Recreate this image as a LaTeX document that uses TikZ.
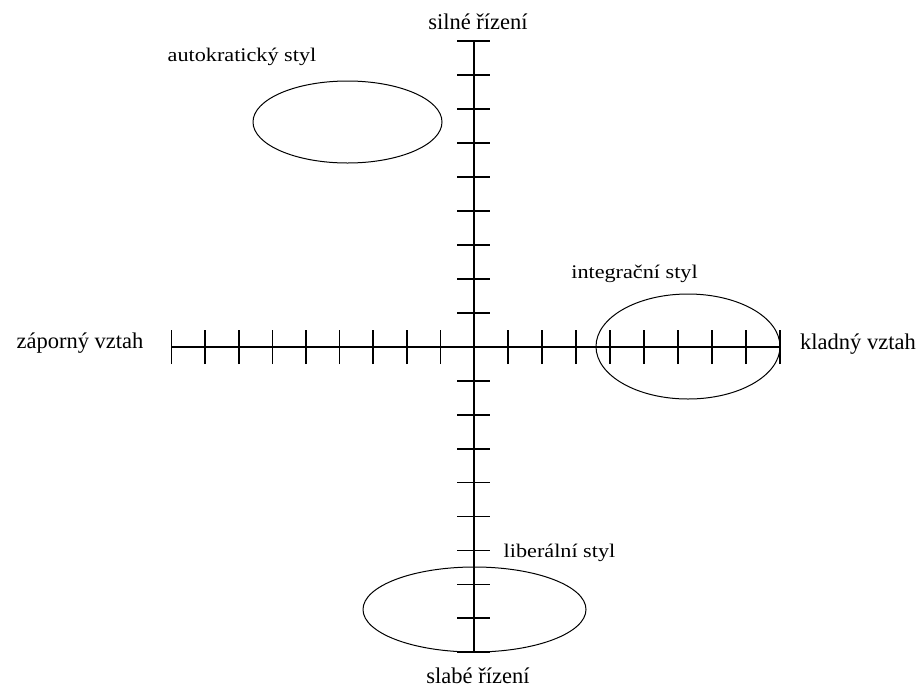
\documentclass[tikz,border=0pt]{standalone}
\usepackage{fontspec}
\setmainfont{Liberation Serif}
\newfontfamily\stretchedserif[FakeStretch=1.15]{Liberation Serif}
\usetikzlibrary{shapes.geometric}
\begin{document}
\begin{tikzpicture}[x=1pt,y=-1pt,
  axisline/.style={line width=1.7pt},
  tickline/.style={line width=1.6pt},
  stylering/.style={draw, ellipse, line width=1pt, inner sep=0pt},
  biglabel/.style={font=\fontsize{22.5}{24}\selectfont, inner sep=0pt, anchor=base},
  smalllabel/.style={font=\stretchedserif\fontsize{19.3}{21}\selectfont, inner sep=0pt, anchor=base}]
\useasboundingbox (0,0) rectangle (923,697);
% axis end points
\coordinate (top) at (474,41);
\coordinate (bottom) at (474,652);
\coordinate (left) at (172,347);
\coordinate (right) at (780,347);
\coordinate (origin) at (474,347);
% axes
\draw[axisline] (top) -- (bottom);
\draw[axisline] (left) -- (right);
% ticks on vertical axis
\foreach \i in {1,...,9} {
  \draw[tickline] ([xshift=-17pt,yshift=34*\i pt]origin) -- ([xshift=16pt,yshift=34*\i pt]origin);
  \draw[tickline] ([xshift=-17pt,yshift=-33.9*\i pt]origin) -- ([xshift=16pt,yshift=-33.9*\i pt]origin);
}
% ticks on horizontal axis
\foreach \i in {1,...,9} {
  \draw[tickline] ([xshift=34*\i pt,yshift=-17pt]origin) -- ([xshift=34*\i pt,yshift=17pt]origin);
  \draw[tickline] ([xshift=-33.6*\i pt,yshift=-17pt]origin) -- ([xshift=-33.6*\i pt,yshift=17pt]origin);
}
% style ellipses
\node[stylering, minimum width=189pt, minimum height=82pt] (auto) at (347.5,122) {};
\node[stylering, minimum width=184pt, minimum height=105pt] (integ) at (688,346.5) {};
\node[stylering, minimum width=223pt, minimum height=85pt] (liber) at (474.5,609.5) {};
% axis labels
\node[biglabel] (strong) at (478,29) {silné řízení};
\node[biglabel] (weak) at (478,683) {slabé řízení};
\node[biglabel] (neg) at (80,348) {záporný vztah};
\node[biglabel] (pos) at (858,349) {kladný vztah};
% style labels
\node[smalllabel] (lauto) at (242,61) {autokratický styl};
\node[smalllabel] (linteg) at (634.5,278) {integrační styl};
\node[smalllabel] (lliber) at (559.5,557) {liberální styl};
\end{tikzpicture}
\end{document}
